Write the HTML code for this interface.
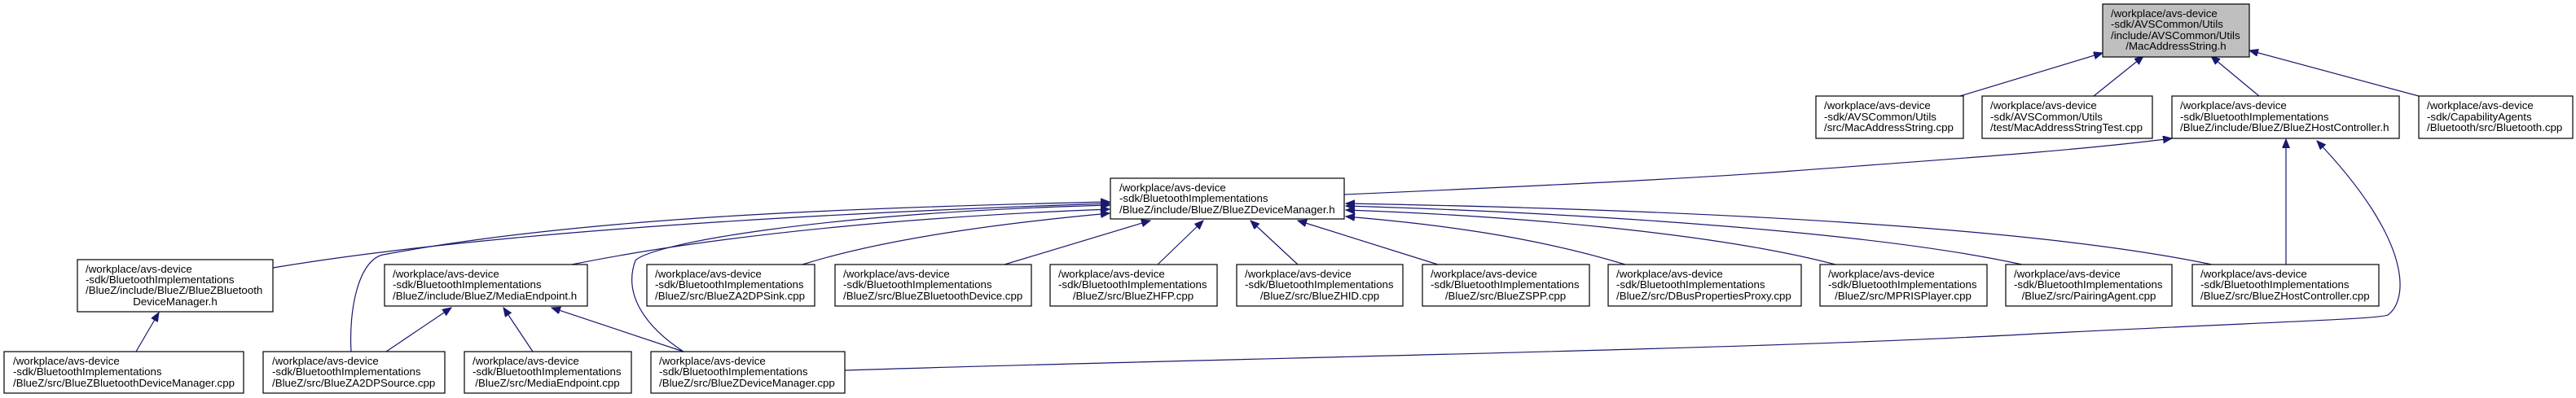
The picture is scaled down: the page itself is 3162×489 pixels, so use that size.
<!DOCTYPE html>
<html><head><meta charset="utf-8"><style>
html,body{margin:0;padding:0;background:#fff;}
svg{display:block;}
text{font-family:"Liberation Sans",Arial,sans-serif;font-size:13.3px;fill:#000;}
.b{fill:#fff;stroke:#000;stroke-width:1.2;}
.e{fill:none;stroke:#191970;stroke-width:1.2;}
</style></head><body>
<svg width="3162" height="489" viewBox="0 0 3162 489" xmlns="http://www.w3.org/2000/svg">
<defs>
<marker id="a" markerWidth="12" markerHeight="10" refX="11" refY="4.5" orient="auto" markerUnits="userSpaceOnUse">
<path d="M0,0 L11,4.5 L0,9 z" fill="#191970" stroke="#191970"/>
</marker>
</defs>

<!-- edges -->
<path class="e" marker-end="url(#a)" d="M2406,118 L2581,65"/>
<path class="e" marker-end="url(#a)" d="M2570,118 L2631,69"/>
<path class="e" marker-end="url(#a)" d="M2773,118 L2714,69"/>
<path class="e" marker-end="url(#a)" d="M2969,118 L2761,62"/>
<path class="e" marker-end="url(#a)" d="M1650,239 C1900,228 2100,218 2200,210 C2400,195 2550,185 2666,170"/>
<path class="e" marker-end="url(#a)" d="M2806,325 L2806,171"/>
<path class="e" marker-end="url(#a)" d="M1037,455 C1500,440 2150,430 2500,410 C2800,395 2920,392 2931,387 C2955,370 2965,300 2844,173"/>

<path class="e" marker-end="url(#a)" d="M1421,325 L1477,271"/>
<path class="e" marker-end="url(#a)" d="M1593,325 L1535,271"/>
<path class="e" marker-end="url(#a)" d="M1765,325 L1593,271"/>
<path class="e" marker-end="url(#a)" d="M1995,325 C1880,290 1760,275 1652,266"/>
<path class="e" marker-end="url(#a)" d="M1233,325 L1412,271"/>
<path class="e" marker-end="url(#a)" d="M985,325 C1080,295 1220,275 1362,262"/>
<path class="e" marker-end="url(#a)" d="M2253,325 C2100,285 1850,265 1652,258"/>
<path class="e" marker-end="url(#a)" d="M2482,325 C2300,285 1950,262 1652,253"/>
<path class="e" marker-end="url(#a)" d="M2715,325 C2500,280 2100,258 1652,250"/>
<path class="e" marker-end="url(#a)" d="M702,325 C900,285 1150,265 1362,257"/>
<path class="e" marker-end="url(#a)" d="M335,329 C600,285 1000,262 1362,250"/>
<path class="e" marker-end="url(#a)" d="M431,432 C428,380 440,320 470,313 C700,270 1000,256 1362,248"/>
<path class="e" marker-end="url(#a)" d="M839,432 C790,400 765,360 780,320 C800,300 1000,262 1362,252"/>

<path class="e" marker-end="url(#a)" d="M474,432 L554,378"/>
<path class="e" marker-end="url(#a)" d="M654,432 L618,378"/>
<path class="e" marker-end="url(#a)" d="M839,432 L677,378"/>
<path class="e" marker-end="url(#a)" d="M167,432 L195,384"/>

<!-- root -->
<rect x="2581" y="5" width="180" height="65" fill="#bfbfbf" stroke="#000" stroke-width="1.2"/>
<text x="2591" y="21">/workplace/avs-device</text>
<text x="2591" y="34">-sdk/AVSCommon/Utils</text>
<text x="2591" y="48">/include/AVSCommon/Utils</text>
<text x="2671" y="61" text-anchor="middle">/MacAddressString.h</text>

<!-- row 2 -->
<rect class="b" x="2229" y="118" width="181" height="52"/>
<text x="2239" y="134">/workplace/avs-device</text>
<text x="2239" y="148">-sdk/AVSCommon/Utils</text>
<text x="2239" y="161">/src/MacAddressString.cpp</text>

<rect class="b" x="2433" y="118" width="209" height="52"/>
<text x="2443" y="134">/workplace/avs-device</text>
<text x="2443" y="148">-sdk/AVSCommon/Utils</text>
<text x="2443" y="161">/test/MacAddressStringTest.cpp</text>

<rect class="b" x="2666" y="118" width="279" height="52"/>
<text x="2676" y="134">/workplace/avs-device</text>
<text x="2676" y="148">-sdk/BluetoothImplementations</text>
<text x="2676" y="161">/BlueZ/include/BlueZ/BlueZHostController.h</text>

<rect class="b" x="2969" y="118" width="189" height="52"/>
<text x="2979" y="134">/workplace/avs-device</text>
<text x="2979" y="148">-sdk/CapabilityAgents</text>
<text x="2979" y="161">/Bluetooth/src/Bluetooth.cpp</text>

<!-- DeviceManager.h -->
<rect class="b" x="1363" y="219" width="287" height="50"/>
<text x="1374" y="235">/workplace/avs-device</text>
<text x="1374" y="248">-sdk/BluetoothImplementations</text>
<text x="1374" y="262">/BlueZ/include/BlueZ/BlueZDeviceManager.h</text>

<!-- row 4 -->
<rect class="b" x="95" y="319" width="240" height="64"/>
<text x="105" y="335">/workplace/avs-device</text>
<text x="105" y="348">-sdk/BluetoothImplementations</text>
<text x="105" y="361">/BlueZ/include/BlueZ/BlueZBluetooth</text>
<text x="215" y="375" text-anchor="middle">DeviceManager.h</text>

<rect class="b" x="472" y="325" width="249" height="51"/>
<text x="482" y="341">/workplace/avs-device</text>
<text x="482" y="354">-sdk/BluetoothImplementations</text>
<text x="482" y="368">/BlueZ/include/BlueZ/MediaEndpoint.h</text>

<rect class="b" x="794" y="325" width="206" height="51"/>
<text x="804" y="341">/workplace/avs-device</text>
<text x="804" y="354">-sdk/BluetoothImplementations</text>
<text x="804" y="368">/BlueZ/src/BlueZA2DPSink.cpp</text>

<rect class="b" x="1025" y="325" width="241" height="51"/>
<text x="1035" y="341">/workplace/avs-device</text>
<text x="1035" y="354">-sdk/BluetoothImplementations</text>
<text x="1035" y="368">/BlueZ/src/BlueZBluetoothDevice.cpp</text>

<rect class="b" x="1289" y="325" width="205" height="51"/>
<text x="1299" y="341">/workplace/avs-device</text>
<text x="1299" y="354">-sdk/BluetoothImplementations</text>
<text x="1391" y="368" text-anchor="middle">/BlueZ/src/BlueZHFP.cpp</text>

<rect class="b" x="1518" y="325" width="204" height="51"/>
<text x="1528" y="341">/workplace/avs-device</text>
<text x="1528" y="354">-sdk/BluetoothImplementations</text>
<text x="1620" y="368" text-anchor="middle">/BlueZ/src/BlueZHID.cpp</text>

<rect class="b" x="1746" y="325" width="205" height="51"/>
<text x="1756" y="341">/workplace/avs-device</text>
<text x="1756" y="354">-sdk/BluetoothImplementations</text>
<text x="1848" y="368" text-anchor="middle">/BlueZ/src/BlueZSPP.cpp</text>

<rect class="b" x="1974" y="325" width="237" height="51"/>
<text x="1984" y="341">/workplace/avs-device</text>
<text x="1984" y="354">-sdk/BluetoothImplementations</text>
<text x="1984" y="368">/BlueZ/src/DBusPropertiesProxy.cpp</text>

<rect class="b" x="2234" y="325" width="205" height="51"/>
<text x="2244" y="341">/workplace/avs-device</text>
<text x="2244" y="354">-sdk/BluetoothImplementations</text>
<text x="2336" y="368" text-anchor="middle">/BlueZ/src/MPRISPlayer.cpp</text>

<rect class="b" x="2462" y="325" width="204" height="51"/>
<text x="2472" y="341">/workplace/avs-device</text>
<text x="2472" y="354">-sdk/BluetoothImplementations</text>
<text x="2564" y="368" text-anchor="middle">/BlueZ/src/PairingAgent.cpp</text>

<rect class="b" x="2691" y="325" width="229" height="51"/>
<text x="2701" y="341">/workplace/avs-device</text>
<text x="2701" y="354">-sdk/BluetoothImplementations</text>
<text x="2701" y="368">/BlueZ/src/BlueZHostController.cpp</text>

<!-- bottom row -->
<rect class="b" x="5" y="432" width="294" height="51"/>
<text x="16" y="448">/workplace/avs-device</text>
<text x="16" y="461">-sdk/BluetoothImplementations</text>
<text x="16" y="475">/BlueZ/src/BlueZBluetoothDeviceManager.cpp</text>

<rect class="b" x="323" y="432" width="223" height="51"/>
<text x="334" y="448">/workplace/avs-device</text>
<text x="334" y="461">-sdk/BluetoothImplementations</text>
<text x="334" y="475">/BlueZ/src/BlueZA2DPSource.cpp</text>

<rect class="b" x="570" y="432" width="205" height="51"/>
<text x="580" y="448">/workplace/avs-device</text>
<text x="580" y="461">-sdk/BluetoothImplementations</text>
<text x="672" y="475" text-anchor="middle">/BlueZ/src/MediaEndpoint.cpp</text>

<rect class="b" x="799" y="432" width="238" height="51"/>
<text x="809" y="448">/workplace/avs-device</text>
<text x="809" y="461">-sdk/BluetoothImplementations</text>
<text x="809" y="475">/BlueZ/src/BlueZDeviceManager.cpp</text>
</svg>
</body></html>
